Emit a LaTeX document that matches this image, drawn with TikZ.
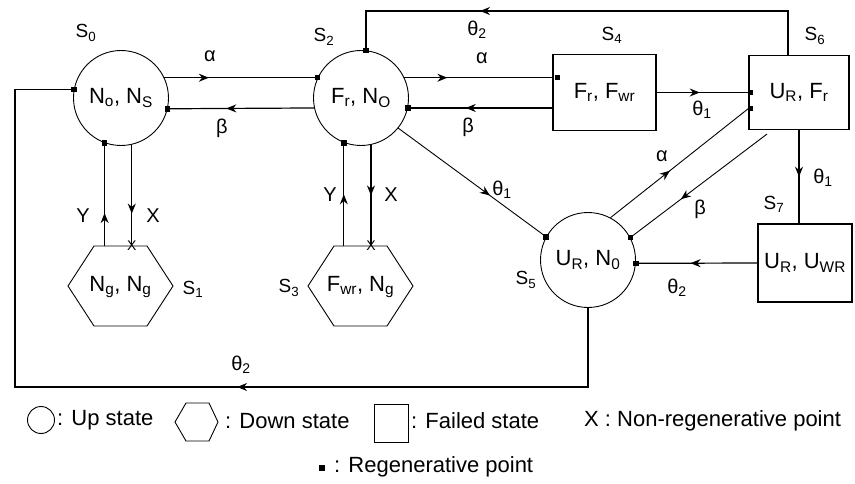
\documentclass[tikz,border=0pt]{standalone}
\usepackage{fontspec}
\setmainfont{Liberation Sans}
\usetikzlibrary{calc,decorations.markings,arrows.meta}
\begin{document}
\begin{tikzpicture}[x=1pt,y=-1pt,
  upst/.style={circle, draw, line width=0.9pt, minimum size=95pt, inner sep=0pt, font=\fontsize{22}{24}\selectfont},
  failst/.style={rectangle, draw, line width=1.1pt, inner sep=0pt, font=\fontsize{22}{24}\selectfont},
  downtext/.style={inner sep=0pt, font=\fontsize{22}{24}\selectfont},
  hexl/.style={line width=0.9pt},
  conn/.style={line width=1.2pt},
  dconn/.style={line width=0.9pt},
  arr/.style={postaction={decorate}, decoration={markings, mark=at position #1 with {\arrow{Stealth[length=10pt,width=8pt]}}}},
  regdot/.style={rectangle, fill=black, minimum size=5.5pt, inner sep=0pt},
  slab/.style={font=\fontsize{19}{21}\selectfont, inner sep=0pt},
  glab/.style={font=\fontsize{20}{22}\selectfont, inner sep=0pt},
  xmark/.style={font=\fontsize{14}{16}\selectfont, inner sep=0pt},
  legt/.style={font=\fontsize{22}{24}\selectfont, inner sep=0pt, anchor=west}
]
\useasboundingbox (0,0) rectangle (855,484);

% states
\node[upst] (s0) at (121,98) {N\textsubscript{o}, N\textsubscript{S}};
\node[upst] (s2) at (361,98) {F\textsubscript{r}, N\textsubscript{O}};
\node[upst] (s5) at (588,260) {U\textsubscript{R}, N\textsubscript{0}};
\node[failst, minimum width=103pt, minimum height=76pt] (s4) at (604.5,92.5) {F\textsubscript{r}, F\textsubscript{wr}};
\node[failst, minimum width=100pt, minimum height=74pt] (s6) at (799,92.5) {U\textsubscript{R}, F\textsubscript{r}};
\node[failst, minimum width=94pt, minimum height=78pt] (s7) at (805,263) {U\textsubscript{R}, U\textsubscript{WR}};
\node[downtext] (s1) at (120.5,287) {N\textsubscript{g}, N\textsubscript{g}};
\node[downtext] (s3) at (360.5,287) {F\textsubscript{wr}, N\textsubscript{g}};
\draw[hexl] (68,286) -- ++(26,-40) -- ++(53,0) -- ++(26,40) -- ++(-26,40) -- ++(-53,0) -- cycle;
\draw[hexl] (308,286) -- ++(26,-40) -- ++(53,0) -- ++(26,40) -- ++(-26,40) -- ++(-53,0) -- cycle;
\coordinate (h1t) at (120,246);
\coordinate (h3t) at (360,246);

% state labels
\node[slab] (l0) at (86,33) {S\textsubscript{0}};
\node[slab] (l2) at (324,37) {S\textsubscript{2}};
\node[slab] (l4) at (612,35) {S\textsubscript{4}};
\node[slab] (l6) at (815,36) {S\textsubscript{6}};
\node[slab] (l1) at (193,289) {S\textsubscript{1}};
\node[slab] (l3) at (289,288) {S\textsubscript{3}};
\node[slab] (l5) at (526,280) {S\textsubscript{5}};
\node[slab] (l7) at (774,204) {S\textsubscript{7}};

% helper coordinates
\coordinate (top) at (0,11);
\coordinate (lb) at (15,387);
\coordinate (t6) at ($(s6.north)+(-11,0)$);
\coordinate (b6) at ($(s6.south)+(-32,4)$);

% S0 <-> S2
\draw[conn, arr=0.29] (s0.25) -- (s2.155);
\node[regdot] (d1) at (s2.155) {};
\draw[conn, arr=0.6] (s2.192) -- (s0.-13);
\node[regdot] (d2) at (s0.-13) {};
\node[glab] (ga1) at (210,56) {α};
\node[glab] (gb1) at (222,128) {β};

% loop S5 -> S0
\draw[conn, arr=430pt] (s5.south) |- (lb) |- (s0.170);
\node[regdot] (d3) at (s0.170) {};
\node[glab] (gt2a) at (241,365) {θ\textsubscript{2}};

% S0 <-> S1
\draw[conn, arr=0.32] (s0.-110 |- h1t) -- (s0.-110);
\node[regdot] (d4) at (s0.-110) {};
\draw[conn, arr=0.68] (s0.-77) -- (s0.-77 |- h1t);
\node[xmark] (x1) at (s0.-77 |- h1t) {X};
\node[glab] (gy1) at (83,216) {Y};
\node[glab] (gx1) at (153,216) {X};

% S2 <-> S3
\draw[conn, arr=0.5] (s2.-111 |- h3t) -- (s2.-111);
\node[regdot] (d5) at (s2.-111) {};
\draw[conn, arr=0.5] (s2.-78) -- (s2.-78 |- h3t);
\node[xmark] (x2) at (s2.-78 |- h3t) {X};
\node[glab] (gy2) at (330,195) {Y};
\node[glab] (gx2) at (391,195) {X};

% S6 -> S2 (top)
\draw[conn, arr=352pt] (t6) -- (t6 |- top) -- (s2.84 |- top) -- (s2.84);
\node[regdot] (d6) at (s2.84) {};
\node[glab] (gt2b) at (477,30) {θ\textsubscript{2}};

% S2 <-> S4
\draw[conn, arr=0.29] (s2.25) -- (s4.west |- s2.25);
\node[regdot] (d7) at ($(s4.west |- s2.25)+(5,0)$) {};
\draw[conn, arr=0.6] (s4.west |- s2.-12) -- (s2.-12);
\node[regdot] (d8) at (s2.-12) {};
\node[glab] (ga2) at (482,58) {α};
\node[glab] (gb2) at (468,127) {β};

% S4 -> S6
\draw[conn, arr=0.47] (s4.east) -- (s6.west);
\node[regdot] (d9) at ($(s6.west)+(2,0)$) {};
\node[glab] (gt1a) at (702,110) {θ\textsubscript{1}};

% S5 <-> S6
\draw[dconn, arr=0.43] (s5.62) -- ($(s6.west)+(0,16)$);
\node[regdot] (d10) at ($(s6.west)+(2,16)$) {};
\draw[dconn, arr=0.63] (b6) -- (s5.28);
\node[regdot] (d11) at (s5.28) {};
\node[glab] (ga3) at (662,156) {α};
\node[glab] (gb3) at (700,209) {β};

% S2 -> S5
\draw[dconn, arr=0.62] (s2.-39) -- (s5.151);
\node[regdot] (d12) at (s5.151) {};
\node[glab] (gt1b) at (502,190) {θ\textsubscript{1}};

% S6 -> S7
\draw[conn, arr=0.5] (s6.south) -- (s6.south |- s7.north);
\node[glab] (gt1c) at (823,178) {θ\textsubscript{1}};

% S7 -> S5
\draw[conn, arr=0.55] (s7.west) -- (s5.-4);
\node[regdot] (d13) at (s5.-4) {};
\node[glab] (gt2c) at (677,288) {θ\textsubscript{2}};

% legend
\node[circle, draw, line width=0.9pt, minimum size=27pt, inner sep=0pt] (lc) at (41,420) {};
\node[legt] (lt1) at (57,420) {: Up state};
\draw[hexl] (175,422) -- (186,403) -- (209,403) -- (218,422) -- (209,441) -- (186,441) -- cycle;
\node[legt] (lt2) at (225,421) {: Down state};
\node[rectangle, draw, line width=0.9pt, minimum width=34pt, minimum height=38pt, inner sep=0pt] (ls) at (391,423) {};
\node[legt] (lt3) at (411,421) {: Failed state};
\node[legt] (lt4) at (584,421) {X : Non-regenerative point};
\node[regdot] (ld) at (322,468) {};
\node[legt] (lt5) at (334,467) {: Regenerative point};
\end{tikzpicture}
\end{document}
